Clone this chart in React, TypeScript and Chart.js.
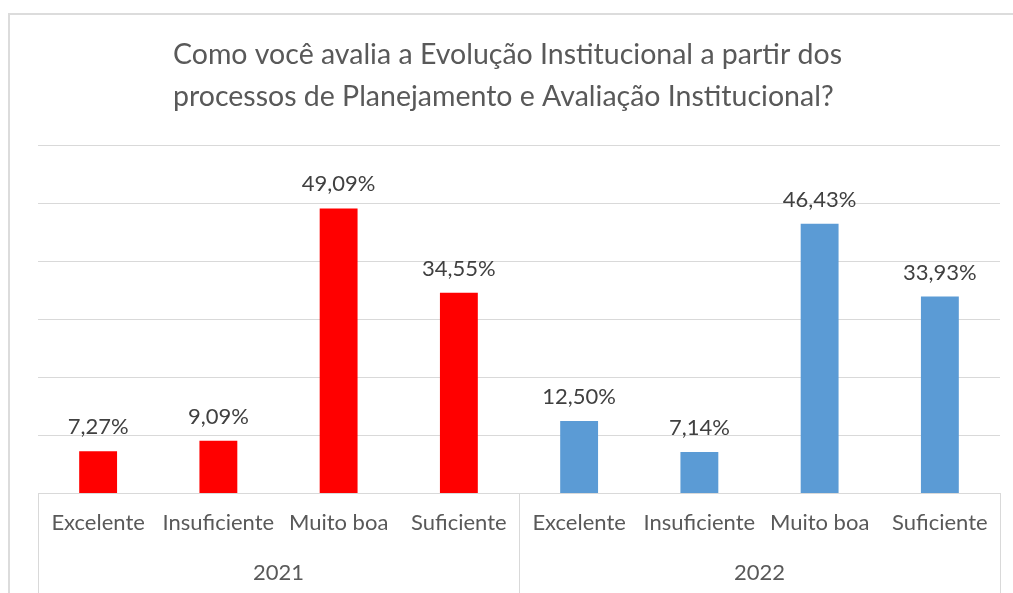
import React, { useEffect, useRef } from "react";
import { Chart, registerables } from "chart.js";

Chart.register(...registerables);

const titleLines = [
  "Como você avalia a Evolução Institucional a partir dos",
  "processos de Planejamento e Avaliação Institucional?",
];
const categories = [
  "Excelente",
  "Insuficiente",
  "Muito boa",
  "Suficiente",
  "Excelente",
  "Insuficiente",
  "Muito boa",
  "Suficiente",
];
const groups = ["2021", "2022"];
const groupSize = 4;
const values = [7.27, 9.09, 49.09, 34.55, 12.5, 7.14, 46.43, 33.93];
const valueLabels = ["7,27%", "9,09%", "49,09%", "34,55%", "12,50%", "7,14%", "46,43%", "33,93%"];
const barColors = [
  "#ff0000",
  "#ff0000",
  "#ff0000",
  "#ff0000",
  "#5b9bd5",
  "#5b9bd5",
  "#5b9bd5",
  "#5b9bd5",
];
const yMin = 0;
const yMax = 60;
const yStep = 10;

const FONT = "Lato, 'Noto Sans', sans-serif";
const GRID = "#d9d9d9";
const TEXT = "#595959";

const titlePlugin = {
  id: "leftTitle",
  afterDraw(chart: any) {
    const ctx = chart.ctx;
    ctx.save();
    ctx.font = `28.5px ${FONT}`;
    ctx.fillStyle = TEXT;
    ctx.textAlign = "left";
    ctx.textBaseline = "middle";
    titleLines.forEach((line, i) => {
      ctx.fillText(line, 173, 55 + i * 42);
    });
    ctx.restore();
  },
};

const labelPlugin = {
  id: "valueLabels",
  afterDatasetsDraw(chart: any) {
    const ctx = chart.ctx;
    const meta = chart.getDatasetMeta(0);
    ctx.save();
    ctx.font = `22px ${FONT}`;
    ctx.fillStyle = "#404040";
    ctx.textAlign = "center";
    ctx.textBaseline = "middle";
    meta.data.forEach((bar: any, i: number) => {
      ctx.fillText(valueLabels[i], bar.x, bar.y - 24);
    });
    ctx.restore();
  },
};

const groupPlugin = {
  id: "groupAxis",
  afterDraw(chart: any) {
    const ctx = chart.ctx;
    const x = chart.scales.x;
    const area = chart.chartArea;
    const half = (x.getPixelForValue(1) - x.getPixelForValue(0)) / 2;
    ctx.save();
    ctx.strokeStyle = GRID;
    ctx.lineWidth = 1;
    ctx.font = `22px ${FONT}`;
    ctx.fillStyle = TEXT;
    ctx.textAlign = "center";
    ctx.textBaseline = "middle";
    const bounds: number[] = [];
    for (let g = 0; g <= groups.length; g++) {
      const idx = g * groupSize;
      const px =
        g < groups.length ? x.getPixelForValue(idx) - half : x.getPixelForValue(idx - 1) + half;
      bounds.push(px);
      const lx = Math.round(px) + 0.5;
      ctx.beginPath();
      ctx.moveTo(lx, area.bottom);
      ctx.lineTo(lx, chart.height);
      ctx.stroke();
    }
    groups.forEach((g, i) => {
      ctx.fillText(g, (bounds[i] + bounds[i + 1]) / 2, 573);
    });
    ctx.restore();
  },
};

export default function App() {
  const ref = useRef<HTMLCanvasElement | null>(null);
  useEffect(() => {
    if (!ref.current) return;
    const chart = new Chart(ref.current, {
      type: "bar",
      data: {
        labels: categories,
        datasets: [
          {
            data: values,
            backgroundColor: barColors,
            borderWidth: 0,
            barPercentage: 0.63,
            categoryPercentage: 0.5,
          },
        ],
      },
      options: {
        animation: false,
        responsive: true,
        maintainAspectRatio: false,
        layout: { padding: { left: 38, right: 13, top: 145, bottom: 49 } },
        plugins: {
          legend: { display: false },
          tooltip: { enabled: false },
          title: { display: false },
        },
        scales: {
          x: {
            grid: { display: false },
            border: { display: true, color: GRID, width: 1 },
            ticks: {
              color: TEXT,
              font: { family: FONT, size: 22, lineHeight: 1.2 },
              padding: 8,
              autoSkip: false,
              maxRotation: 0,
              minRotation: 0,
            },
          },
          y: {
            min: yMin,
            max: yMax,
            ticks: { display: false, stepSize: yStep },
            grid: { color: GRID, drawTicks: false, lineWidth: 1 },
            border: { display: false },
          },
        },
      },
      plugins: [titlePlugin, labelPlugin, groupPlugin],
    });
    return () => chart.destroy();
  }, []);
  return (
    <div style={{ position: "fixed", left: 0, top: 0, width: 1013, height: 593, background: "#fff" }}>
      <div
        style={{
          position: "absolute",
          left: 8,
          top: 13,
          width: 1020,
          height: 600,
          borderLeft: "2px solid #dcdcdc",
          borderTop: "2px solid #dcdcdc",
          boxSizing: "border-box",
        }}
      />
      <canvas ref={ref} style={{ position: "absolute", left: 0, top: 0 }} />
    </div>
  );
}
